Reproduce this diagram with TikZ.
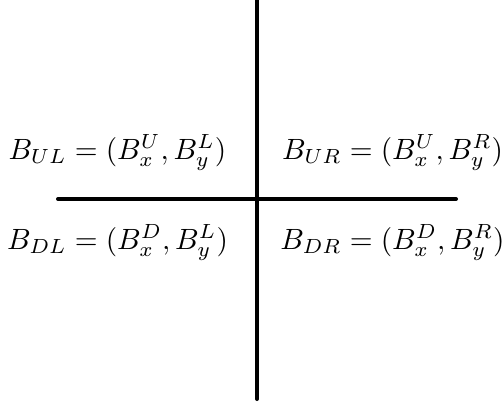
\documentclass[tikz,border=0pt]{standalone}
\begin{document}
\begin{tikzpicture}[x=0.341pt,y=-0.341pt,
  axisline/.style={line width=1.36pt, line cap=round},
  lbl/.style={inner sep=0pt, anchor=base}]
\useasboundingbox (0,0) rectangle (502,405);
\coordinate (vt) at (257,-5);
\coordinate (vb) at (257,399);
\coordinate (hl) at (58,199);
\coordinate (hr) at (456,199);
\draw[axisline] (vt) -- (vb);
\draw[axisline] (hl) -- (hr);
\node[lbl] (ul) at (117.5,159) {$B_{UL} = (B_x^U, B_y^L)$};
\node[lbl] (ur) at (392.5,159) {$B_{UR} = (B_x^U, B_y^R)$};
\node[lbl] (dl) at (117.5,249) {$B_{DL} = (B_x^D, B_y^L)$};
\node[lbl] (dr) at (392.5,249) {$B_{DR} = (B_x^D, B_y^R)$};
\end{tikzpicture}
\end{document}
